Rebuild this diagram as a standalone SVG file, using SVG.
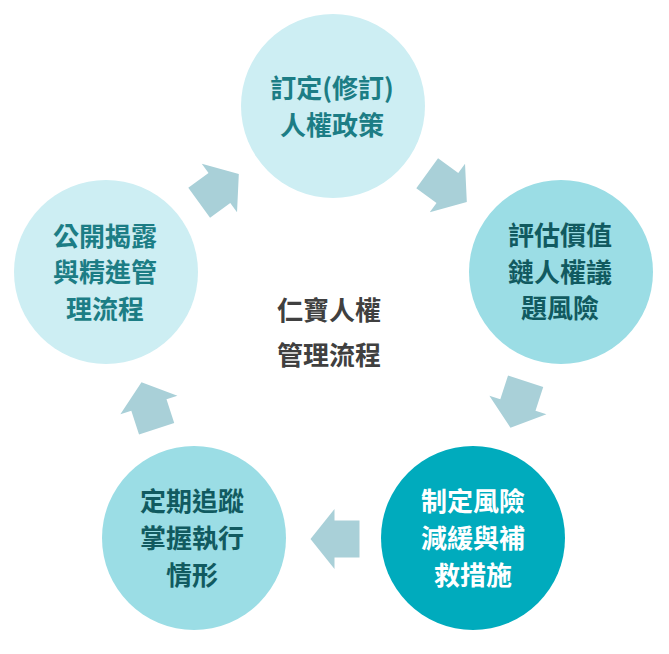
<svg xmlns="http://www.w3.org/2000/svg" width="669" height="654" viewBox="0 0 669 654">
<defs>
<style>
.t{font-family:"Noto Sans CJK TC","Noto Sans CJK SC",sans-serif;font-size:26px;font-weight:bold;text-anchor:middle}
.light{fill:#cdeef3}
.mid{fill:#9bdde5}
.dark{fill:#00abbd}
.tl{fill:#1c7d85}
.tm{fill:#115a60}
.tw{fill:#ffffff}
.tc{fill:#404040}
.arr{fill:#a9d0d8}
</style>
<polygon id="arrow" points="-25,-18.5 0,-18.5 0,-30 24,0 0,30 0,18.5 -25,18.5"/>
</defs>
<rect width="669" height="654" fill="#ffffff"/>
<g id="connectors" class="arr">
<use href="#arrow" transform="translate(447.4,188) rotate(36)"/>
<use href="#arrow" transform="translate(517.9,405) rotate(108)"/>
<use href="#arrow" transform="translate(334.5,539) rotate(180)"/>
<use href="#arrow" transform="translate(148.9,405) rotate(252)"/>
<use href="#arrow" transform="translate(219.4,188) rotate(324)"/>
</g>
<g id="node-policy">
<circle class="light" cx="333" cy="106" r="92"/>
<text class="t tl" x="332" y="98">訂定(修訂)</text>
<text class="t tl" x="332" y="134.5">人權政策</text>
</g>
<g id="node-assess">
<circle class="mid" cx="561" cy="272" r="92"/>
<text class="t tm" x="560" y="245">評估價值</text>
<text class="t tm" x="560" y="281.5">鏈人權議</text>
<text class="t tm" x="560" y="318">題風險</text>
</g>
<g id="node-mitigate">
<circle class="dark" cx="473" cy="538" r="92"/>
<text class="t tw" x="473" y="511">制定風險</text>
<text class="t tw" x="473" y="548">減緩與補</text>
<text class="t tw" x="473" y="585">救措施</text>
</g>
<g id="node-track">
<circle class="mid" cx="194" cy="538" r="92"/>
<text class="t tm" x="192" y="511">定期追蹤</text>
<text class="t tm" x="192" y="548">掌握執行</text>
<text class="t tm" x="192" y="585">情形</text>
</g>
<g id="node-disclose">
<circle class="light" cx="106" cy="272" r="92"/>
<text class="t tl" x="105" y="245.5">公開揭露</text>
<text class="t tl" x="105" y="282">與精進管</text>
<text class="t tl" x="105" y="319">理流程</text>
</g>
<g id="center-label">
<text class="t tc" x="329" y="319.5">仁寶人權</text>
<text class="t tc" x="329" y="364.5">管理流程</text>
</g>
</svg>
